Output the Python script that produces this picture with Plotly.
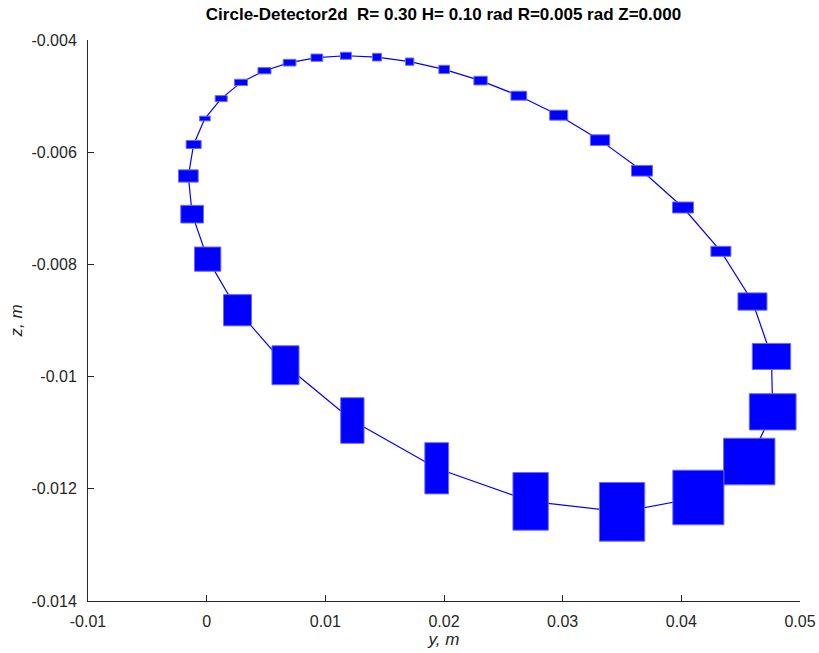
import plotly.graph_objects as go

# Point centres (y, z) in metres, going round the loop
y_pos = [0.01173, 0.014347, 0.017106, 0.020017, 0.023081, 0.026305, 0.029663, 0.033149,
         0.036685, 0.040145, 0.043334, 0.045993, 0.047596, 0.047698, 0.045723, 0.041436,
         0.035005, 0.02730, 0.019385, 0.012279, 0.006642, 0.0026, 0.000085, -0.001223,
         -0.001544, -0.001097, -0.000152, 0.001224, 0.002895, 0.00487, 0.006988, 0.009283]
z_pos = [-0.004281, -0.004306, -0.004386, -0.004525, -0.004724, -0.004993, -0.00534, -0.005785,
         -0.006331, -0.006986, -0.007767, -0.008662, -0.009641, -0.010628, -0.011514, -0.012155,
         -0.012411, -0.012224, -0.011634, -0.010783, -0.009797, -0.008817, -0.007906, -0.007105,
         -0.006424, -0.005863, -0.0054, -0.005045, -0.004756, -0.004548, -0.004404, -0.004315]
# Box widths (in y) and heights (in z)
y_size = [0.000928, 0.00076, 0.0007, 0.000903, 0.001122, 0.001325, 0.001519, 0.001629,
          0.001772, 0.001772, 0.001688, 0.002447, 0.003232, 0.003941, 0.004329, 0.004304,
          0.003823, 0.002979, 0.002, 0.001966, 0.002279, 0.002363, 0.002219, 0.001916,
          0.001662, 0.001266, 0.000903, 0.001013, 0.001097, 0.001097, 0.001072, 0.000987]
z_size = [0.000125, 0.000137, 0.00013, 0.000148, 0.000155, 0.00016, 0.000178, 0.00019,
          0.00019, 0.000196, 0.000178, 0.000308, 0.000463, 0.000646, 0.000831, 0.000973,
          0.001045, 0.001027, 0.000913, 0.000813, 0.000694, 0.000557, 0.000432, 0.000315,
          0.000219, 0.000142, 0.000084, 0.000107, 0.000112, 0.000112, 0.000119, 0.00013]

x_tickvals = [-0.01, 0, 0.01, 0.02, 0.03, 0.04, 0.05]
x_ticktext = ["-0.01", "0", "0.01", "0.02", "0.03", "0.04", "0.05"]
y_tickvals = [-0.014, -0.012, -0.01, -0.008, -0.006, -0.004]
y_ticktext = ["-0.014", "-0.012", "-0.01", "-0.008", "-0.006", "-0.004"]

title_text = "Circle-Detector2d\u00a0\u00a0R= 0.30 H= 0.10 rad R=0.005 rad Z=0.000"

fig = go.Figure()

shapes = []
for cx, cz, w, h in zip(y_pos, z_pos, y_size, z_size):
    shapes.append(dict(type="rect", xref="x", yref="y",
                       x0=cx - w / 2, x1=cx + w / 2, y0=cz - h / 2, y1=cz + h / 2,
                       fillcolor="#0000ff", line=dict(color="#6a6aff", width=1),
                       layer="above"))

fig.add_trace(go.Scatter(x=y_pos + [y_pos[0]], y=z_pos + [z_pos[0]], mode="lines",
                         line=dict(color="#0000ff", width=1.2), showlegend=False,
                         hoverinfo="skip"))

font = "Liberation Sans, Arial, sans-serif"
fig.update_layout(
    width=819, height=653,
    margin=dict(l=88, r=19, t=40, b=52),
    paper_bgcolor="white", plot_bgcolor="white",
    shapes=shapes,
    showlegend=False,
    font=dict(family=font, size=16, color="#262626"),
    title=dict(text="<b>" + title_text + "</b>", x=443.5 / 819,
               xanchor="center", y=1 - 14 / 653, yanchor="middle",
               font=dict(family=font, size=17, color="black")),
    xaxis=dict(range=[-0.01, 0.05], tickvals=x_tickvals, ticktext=x_ticktext,
               ticks="inside", ticklen=6, tickcolor="#262626", showline=True,
               linecolor="#262626", linewidth=1, showgrid=False, zeroline=False,
               mirror=False, ticklabelstandoff=6, automargin=False,
               title=dict(text="<i>y, m</i>", standoff=3, font=dict(size=17)),
               tickfont=dict(size=16)),
    yaxis=dict(range=[-0.014, -0.004], tickvals=y_tickvals, ticktext=y_ticktext,
               ticks="inside", ticklen=6, tickcolor="#262626", showline=True,
               linecolor="#262626", linewidth=1, showgrid=False, zeroline=False,
               mirror=False, ticklabelstandoff=7, automargin=False,
               title=dict(text="<i>z, m</i>", standoff=4, font=dict(size=17)),
               tickfont=dict(size=16)),
)

fig.write_html("out.html")
